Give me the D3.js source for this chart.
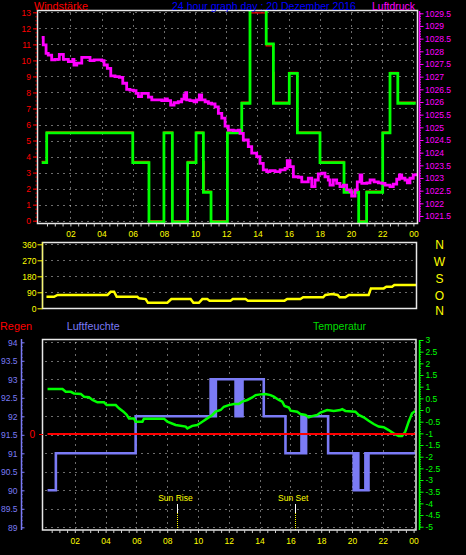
<!DOCTYPE html>
<html><head><meta charset="utf-8">
<script src="https://cdn.jsdelivr.net/npm/d3@7"></script>
<style>
html,body{margin:0;padding:0;background:#000;}
svg{display:block;background:#000;}
</style></head><body>
<svg id="c" width="466" height="555"></svg>
<script>
// ---------- DATA ----------
const hourTickLabels = ["02","04","06","08","10","12","14","16","18","20","22","00"];
const compassLabels = ["N","W","S","O","N"];

// Windstärke (green, step) and gusts (red)
const windHours  = [0.16,0.48,6.0,7.04,8.0,8.54,9.52,10.06,10.53,11.02,12.07,12.99,13.52,14.56,15.02,16.04,16.56,18.01,19.55,20.49,21.0,22.03,22.5,23.0,24.15];
const windValues = [3.7,5.55,3.7,0,5.55,0,3.7,5.55,1.85,0,5.55,7.4,14.8,11.1,7.4,9.26,5.55,3.7,1.85,0,1.85,5.55,9.26,7.4,7.4];
const gustHours  = [0.16,0.48,6.0,7.04,8.0,8.54,9.52,10.06,10.5,10.6,11.02,12.07,12.99,13.52,14.56,15.0,15.08,16.04,16.56,18.01,19.55,20.49,21.0,22.03,22.5,23.0,24.15];
const gustValues = [3.7,5.55,3.7,0,5.55,0,3.7,5.55,3.7,1.85,0,5.55,7.4,12.96,10.9,9.26,7.4,9.26,5.55,3.7,1.85,0,1.85,5.55,9.26,7.4,7.4];

// Luftdruck (magenta)
const pressHours = [0.16,0.26,0.44,0.58,0.80,1.01,1.29,1.55,1.87,2.15,2.23,2.41,2.73,2.94,3.26,3.52,3.79,4.01,4.16,4.37,4.59,4.86,5.14,5.36,5.61,5.82,6.04,6.21,6.36,6.57,6.79,7.0,7.22,7.54,7.86,8.07,8.22,8.43,8.65,8.92,9.14,9.29,9.40,9.46,9.67,9.93,10.10,10.27,10.42,10.64,10.85,11.06,11.28,11.49,11.71,11.92,12.13,12.45,12.77,12.88,13.09,13.41,13.63,13.95,14.16,14.37,14.59,14.80,15.13,15.45,15.77,15.91,16.09,16.30,16.62,16.84,17.05,17.26,17.48,17.69,17.90,18.12,18.33,18.54,18.65,18.86,19.08,19.29,19.51,19.72,19.94,20.04,20.26,20.40,20.58,20.69,21.01,21.22,21.48,21.75,21.97,22.18,22.50,22.71,22.93,23.10,23.25,23.46,23.61,23.78,23.99,24.15];
const pressValues = [1028.55,1028.25,1027.92,1027.85,1027.66,1027.68,1027.88,1027.68,1027.59,1027.68,1027.46,1027.53,1027.76,1027.76,1027.63,1027.66,1027.66,1027.63,1027.46,1027.33,1027.03,1027.0,1026.97,1026.74,1026.50,1026.47,1026.45,1026.34,1026.21,1026.34,1026.34,1026.19,1026.08,1026.08,1026.05,1026.12,1026.05,1025.88,1025.97,1026.01,1026.11,1026.28,1026.37,1026.08,1026.05,1026.01,1026.08,1026.28,1026.08,1026.01,1025.95,1025.92,1025.81,1025.55,1025.36,1025.05,1024.89,1024.87,1024.89,1024.76,1024.50,1024.24,1023.98,1023.84,1023.58,1023.32,1023.25,1023.29,1023.25,1023.32,1023.38,1023.68,1023.45,1023.05,1023.03,1022.85,1022.85,1022.99,1022.66,1022.92,1023.16,1023.19,1023.05,1022.92,1022.72,1022.92,1022.79,1022.66,1022.72,1022.53,1022.46,1022.29,1022.53,1022.85,1023.12,1022.79,1022.81,1022.92,1022.85,1022.81,1022.79,1022.72,1022.66,1022.76,1022.95,1023.12,1022.99,1022.92,1022.81,1022.99,1023.12,1023.19];

// Windrichtung (yellow)
const dirHours  = [0.16,0.65,0.88,4.12,4.33,4.55,4.72,6.06,6.17,6.60,6.75,8.01,8.27,9.52,9.70,10.06,10.28,10.60,10.75,12.11,12.26,13.09,13.24,15.62,15.79,16.65,16.83,18.13,18.27,18.71,19.07,19.20,19.57,19.79,21.08,21.23,22.06,22.23,22.60,22.75,24.16];
const dirValues = [65,65,75,75,93,93,65,65,56,52,31,31,52,52,31,31,52,52,43,43,52,52,43,43,52,52,62,62,75,80,75,62,62,75,75,112,112,121,121,131,131];

// Luftfeuchte (blue, step)
const humHours  = [0.23,0.77,5.95,10.82,10.87,10.92,10.97,11.02,11.07,11.16,12.44,12.49,12.54,12.59,12.64,12.69,12.74,12.79,12.84,12.89,14.27,15.68,16.72,16.77,16.82,16.87,16.92,16.97,17.02,18.45,20.11,20.16,20.21,20.26,20.31,20.36,20.41,20.87,20.92,20.97,21.02,21.07,24.11];
const humValues = [90,91,92,93,92,93,92,93,92,93,92,93,92,93,92,93,92,93,92,93,92,91,92,91,92,91,92,91,92,91,90,91,90,91,90,91,90,91,90,91,90,91,91];

// Temperatur (green)
const tempHours  = [0.23,1.2,1.41,1.74,1.95,2.39,2.60,2.92,3.15,3.47,3.90,4.07,4.66,4.87,5.16,5.37,5.52,5.84,5.95,6.39,6.49,7.79,8.01,8.55,9.20,9.31,9.63,9.95,10.28,10.60,10.93,11.14,11.47,11.68,12.0,12.33,12.65,12.87,13.2,13.52,13.74,14.06,14.38,14.71,14.92,15.25,15.47,15.62,15.90,16.01,16.44,16.65,16.98,17.19,17.41,17.74,17.95,18.39,18.81,19.25,19.36,19.57,20.22,20.43,20.76,21.08,21.41,21.73,22.06,22.38,22.70,23.03,23.25,23.46,23.68,23.90,24.11];
const tempValues = [0.90,0.90,0.78,0.78,0.71,0.69,0.57,0.55,0.43,0.33,0.33,0.21,0.21,0.07,-0.07,-0.21,-0.36,-0.36,-0.5,-0.5,-0.37,-0.37,-0.5,-0.64,-0.71,-0.79,-0.68,-0.64,-0.5,-0.36,-0.21,-0.07,0.0,0.14,0.21,0.26,0.26,0.36,0.43,0.54,0.64,0.67,0.69,0.64,0.57,0.43,0.36,0.17,0.11,-0.03,-0.07,-0.17,-0.21,-0.31,-0.26,-0.21,-0.11,0.0,-0.04,0.0,0.04,-0.04,-0.07,-0.21,-0.31,-0.46,-0.6,-0.71,-0.74,-0.86,-1.0,-1.11,-1.11,-0.93,-0.5,-0.14,-0.04];

// Regen (red)
const rainHours  = [0.23,24.11];
const rainValues = [0,0];

// Sun markers
const sunHours  = [8.63,16.28];
const sunLabels = ["Sun Rise","Sun Set"];

// ---------- DRAW ----------
const FONT = '"Liberation Sans", Arial, sans-serif';
const svg = d3.select('#c');
const zip = (a,b) => a.map((v,i)=>[v,b[i]]);
const fmt1 = d => { const v = +(+d).toFixed(1); return (v<0?'-':'') + String(Math.abs(v)); };
const GRID = '#d8d8d8';

function dotted(g, lines){
  g.selectAll(null).data(lines).join('line')
    .attr('x1',d=>d[0]).attr('y1',d=>d[1]).attr('x2',d=>d[2]).attr('y2',d=>d[3])
    .attr('stroke',GRID).attr('stroke-width',1).attr('stroke-dasharray','1,5');
}
function styleAxis(g, color, fs){
  g.select('.domain').remove();
  g.attr('font-family',FONT).attr('font-size',fs);
  g.selectAll('.tick line').attr('stroke',color);
  g.selectAll('.tick text').attr('fill',color);
  return g;
}
const px = v => Math.round(v)+0.5;

// ===== Top panel =====
const T = {l:37.5, r:417.5, t:10.5, b:223.5};
const xTop = d3.scaleLinear().domain([0,24]).range([39.2,413.4]);
const yWind = d3.scaleLinear().domain([0,13]).range([220.7,12.3]);
const yPress = d3.scaleLinear().domain([1021.5,1029.5]).range([216,13.3]);

svg.append('clipPath').attr('id','clipT').append('rect')
  .attr('x',T.l).attr('y',T.t).attr('width',T.r-T.l).attr('height',T.b-T.t);

const gT = svg.append('g');
const hT = d3.range(0,14).map(v=>[T.l+2, px(yWind(v)), T.r-1, px(yWind(v))]);
const vT = d3.range(2,25,2).map(h=>[px(xTop(h)), T.t+3, px(xTop(h)), T.b-1]);
dotted(gT, hT.concat(vT));

const gTL = gT.append('g').attr('clip-path','url(#clipT)');
gTL.append('path').datum(zip(gustHours,gustValues))
  .attr('d', d3.line().x(d=>xTop(d[0])).y(d=>yWind(d[1])).curve(d3.curveStepAfter))
  .attr('fill','none').attr('stroke','#ff0000').attr('stroke-width',1.2);
gTL.append('path').datum(zip(windHours,windValues))
  .attr('d', d3.line().x(d=>xTop(d[0])).y(d=>yWind(d[1])+1.2).curve(d3.curveStepAfter))
  .attr('fill','none').attr('stroke','#00ff00').attr('stroke-width',2.8);
gTL.append('path').datum(zip(pressHours,pressValues))
  .attr('d', d3.line().x(d=>xTop(d[0])).y(d=>yPress(d[1])).curve(d3.curveStepAfter))
  .attr('fill','none').attr('stroke','#ff00ff').attr('stroke-width',2.8).attr('stroke-linejoin','miter');

gT.append('rect').attr('x',T.l).attr('y',T.t).attr('width',T.r-T.l).attr('height',T.b-T.t)
  .attr('fill','none').attr('stroke','#e8e8e8').attr('stroke-width',1.5);

styleAxis(gT.append('g').attr('transform',`translate(${T.l-0.5},0)`)
  .call(d3.axisLeft(yWind).tickValues(d3.range(0,13.01,0.25)).tickSize(1.5).tickFormat('')),'#ff0000',8.5);
styleAxis(gT.append('g').attr('transform',`translate(${T.l-0.5},0)`)
  .call(d3.axisLeft(yWind).tickValues(d3.range(0,14)).tickSize(4).tickPadding(2).tickFormat(d3.format('d'))),'#ff0000',8.5);

gT.append('line').attr('x1',419.5).attr('x2',419.5).attr('y1',11).attr('y2',222)
  .attr('stroke','#ff00ff').attr('stroke-width',1.5);
styleAxis(gT.append('g').attr('transform','translate(419,0)')
  .call(d3.axisRight(yPress).tickValues(d3.range(1021.5,1029.55,0.1)).tickSize(2).tickFormat('')),'#ff00ff',8.5);
styleAxis(gT.append('g').attr('transform','translate(419,0)')
  .call(d3.axisRight(yPress).tickValues(d3.range(1021.5,1029.51,0.5)).tickSize(4.5).tickPadding(1.5).tickFormat(fmt1)),'#ff00ff',8.5);

const axT = gT.append('g').attr('transform',`translate(0,${T.b})`)
  .call(d3.axisBottom(xTop).tickValues(d3.range(0.5,24.01,0.5)).tickSize(3).tickPadding(4)
    .tickFormat(d => d%2===0 ? hourTickLabels[d/2-1] : ''));
styleAxis(axT,'#cfcfcf',8.5);
axT.selectAll('.tick text').attr('fill','#ffff00');

const title = (t,x,y,w,c,fs) => svg.append('text').text(t).attr('x',x).attr('y',y)
  .attr('textLength',w).attr('lengthAdjust','spacingAndGlyphs')
  .attr('font-family',FONT).attr('font-size',fs).attr('fill',c);
title('Windstärke',34,9.5,54,'#ff0000',11);
title('24 hour graph day : 20 Dezember 2016',172,9.5,184,'#0000ff',11);
title('Luftdruck',372,9.5,43,'#ff00ff',11);

// ===== Middle panel (Windrichtung) =====
const M = {l:42.5, r:416.5, t:242.5, b:308.5};
const xMid = d3.scaleLinear().domain([0,24]).range([44,413.6]);
const yDir = d3.scaleLinear().domain([0,360]).range([308.3,244.3]);
const gM = svg.append('g');
dotted(gM, d3.range(0,361,90).map(v=>[M.l+3, px(yDir(v)), M.r-1, px(yDir(v))]));
svg.append('clipPath').attr('id','clipM').append('rect')
  .attr('x',M.l).attr('y',M.t).attr('width',M.r-M.l).attr('height',M.b-M.t);
gM.append('path').datum(zip(dirHours,dirValues)).attr('clip-path','url(#clipM)')
  .attr('d', d3.line().x(d=>xMid(d[0])).y(d=>yDir(d[1])))
  .attr('fill','none').attr('stroke','#ffff00').attr('stroke-width',2.5);
gM.append('rect').attr('x',M.l).attr('y',M.t).attr('width',M.r-M.l).attr('height',M.b-M.t)
  .attr('fill','none').attr('stroke','#e8e8e8').attr('stroke-width',1.5);
gM.append('line').attr('x1',M.l).attr('x2',M.l).attr('y1',M.t).attr('y2',M.b)
  .attr('stroke','#ffff00').attr('stroke-width',1.5).attr('stroke-dasharray','1,1');
styleAxis(gM.append('g').attr('transform',`translate(${M.l},0)`)
  .call(d3.axisLeft(yDir).tickValues(d3.range(0,361,90)).tickSize(5).tickPadding(1).tickFormat(d3.format('d'))),'#ffff00',8.5);
gM.selectAll(null).data(compassLabels).join('text')
  .text(d=>d).attr('x',439.5).attr('y',(d,i)=>[244,261,278.5,295,310.5][i]+4.5)
  .attr('text-anchor','middle').attr('font-family',FONT).attr('font-size',12).attr('fill','#ffff00');

// ===== Bottom panel =====
const B = {l:42.5, r:416, t:339.5, b:530};
const xBot = d3.scaleLinear().domain([0,24]).range([44,413.6]);
const yHum = d3.scaleLinear().domain([89,94]).range([527.3,342.3]);
const yTemp = d3.scaleLinear().domain([-5,3]).range([526.7,340]);
const yRain = d3.scaleLinear().domain([0,1]).range([434,340]);
const gB = svg.append('g');
const hB = d3.range(89,94.01,0.5).map(v=>[B.l+3, px(yHum(v)), B.r-1, px(yHum(v))]);
const vB = d3.range(2,25,2).map(h=>[px(xBot(h)), B.t+3, px(xBot(h)), B.b-1]);
dotted(gB, hB.concat(vB));
svg.append('clipPath').attr('id','clipB').append('rect')
  .attr('x',B.l).attr('y',B.t).attr('width',B.r-B.l).attr('height',B.b-B.t);
const gBL = gB.append('g').attr('clip-path','url(#clipB)');
gBL.append('path').datum(zip(humHours,humValues))
  .attr('d', d3.line().x(d=>xBot(d[0])).y(d=>yHum(d[1])).curve(d3.curveStepAfter))
  .attr('fill','none').attr('stroke','#7b7bf5').attr('stroke-width',2.6);
gBL.append('path').datum(zip(tempHours,tempValues))
  .attr('d', d3.line().x(d=>xBot(d[0])).y(d=>yTemp(d[1])))
  .attr('fill','none').attr('stroke','#00ff00').attr('stroke-width',2.5);
gBL.append('path').datum(zip(rainHours,rainValues))
  .attr('d', d3.line().x(d=>xBot(d[0])).y(d=>yRain(d[1])))
  .attr('fill','none').attr('stroke','#ff0000').attr('stroke-width',2.2);

sunHours.forEach((h,i)=>{
  const x = px(xBot(h));
  gB.append('line').attr('x1',x).attr('x2',x).attr('y1',504).attr('y2',513).attr('stroke','#ffffff').attr('stroke-width',1);
  gB.append('line').attr('x1',x).attr('x2',x).attr('y1',513).attr('y2',530).attr('stroke','#ffff00').attr('stroke-width',1).attr('stroke-dasharray','1,1');
  gB.append('text').text(sunLabels[i]).attr('x',xBot(h)-1.5).attr('y',501)
    .attr('text-anchor','middle').attr('font-family',FONT).attr('font-size',8.5).attr('fill','#ffff00');
});

gB.append('rect').attr('x',B.l).attr('y',B.t).attr('width',B.r-B.l).attr('height',B.b-B.t)
  .attr('fill','none').attr('stroke','#e8e8e8').attr('stroke-width',1.5);

const axB = gB.append('g').attr('transform',`translate(0,${B.b})`)
  .call(d3.axisBottom(xBot).tickValues(d3.range(0.5,24.01,0.5)).tickSize(3).tickPadding(4.5)
    .tickFormat(d => d%2===0 ? hourTickLabels[d/2-1] : ''));
styleAxis(axB,'#cfcfcf',8.5);
axB.selectAll('.tick text').attr('fill','#ffff00');

const HUM = '#7b7bf5';
gB.append('line').attr('x1',21.5).attr('x2',21.5).attr('y1',339).attr('y2',530).attr('stroke',HUM).attr('stroke-width',1.5);
styleAxis(gB.append('g').attr('transform','translate(21,0)')
  .call(d3.axisLeft(yHum).tickValues(d3.range(89,94.01,0.1)).tickSize(-1.5).tickFormat('')),HUM,8.5);
styleAxis(gB.append('g').attr('transform','translate(21,0)')
  .call(d3.axisLeft(yHum).tickValues(d3.range(89,94.01,0.5)).tickSize(-3.5).tickPadding(3.5).tickFormat(fmt1)),HUM,8.5);

gB.append('line').attr('x1',419.5).attr('x2',419.5).attr('y1',340).attr('y2',530).attr('stroke','#00ff00').attr('stroke-width',1.5);
styleAxis(gB.append('g').attr('transform','translate(419,0)')
  .call(d3.axisRight(yTemp).tickValues(d3.range(-5,3.01,0.1)).tickSize(2).tickFormat('')),'#00ff00',8.5);
styleAxis(gB.append('g').attr('transform','translate(419,0)')
  .call(d3.axisRight(yTemp).tickValues(d3.range(-5,3.01,0.5)).tickSize(4.5).tickPadding(2).tickFormat(fmt1)),'#00ff00',8.5);

styleAxis(gB.append('g').attr('transform','translate(43,0)')
  .call(d3.axisLeft(yRain).tickValues([0]).tickSize(4).tickPadding(4).tickFormat(d3.format('d'))),'#ff0000',10);

title('Regen',0,330,32,'#ff0000',10.5);
title('Luftfeuchte',66.7,330,53,'#7b7bf5',10.5);
title('Temperatur',313,330,53,'#00dd00',10.5);
</script>
</body></html>
